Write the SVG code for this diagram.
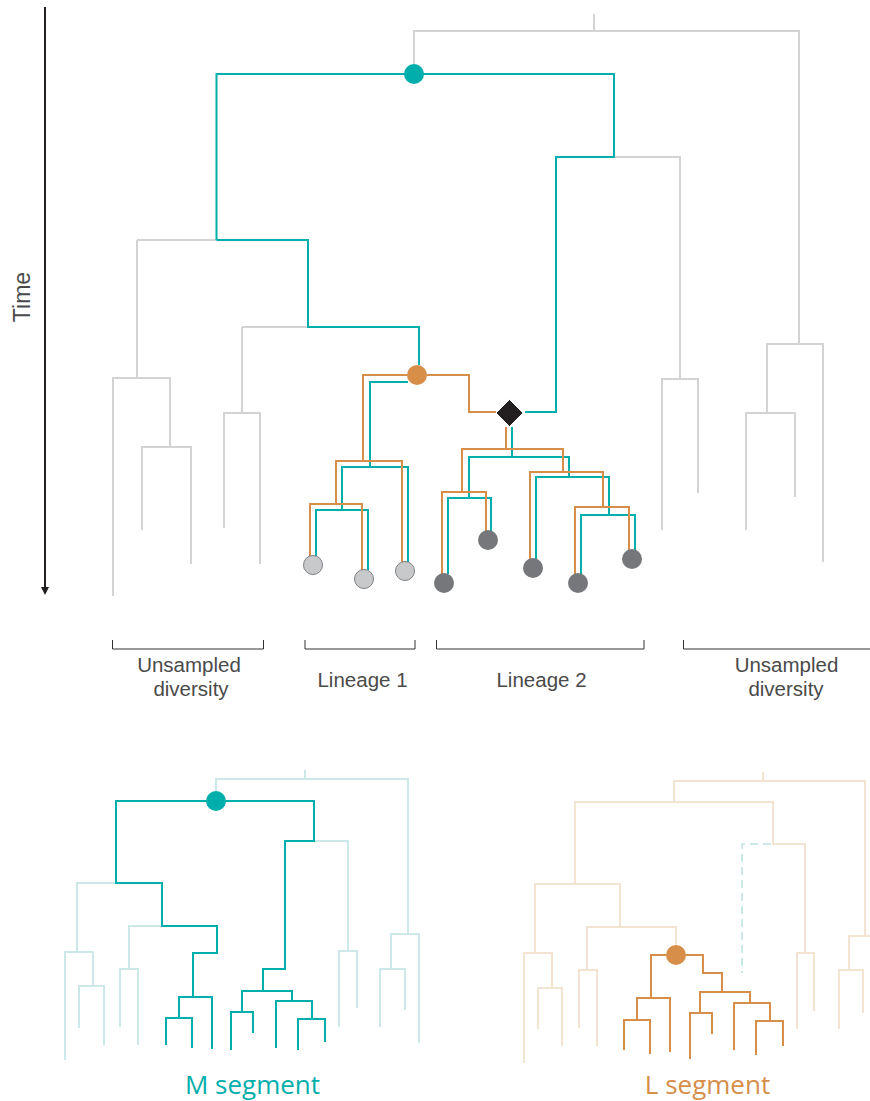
<svg xmlns="http://www.w3.org/2000/svg" width="870" height="1101" viewBox="0 0 870 1101">
<style>
.g{fill:none;stroke:#d3d3d3;stroke-width:2}
.t{fill:none;stroke:#00aeab;stroke-width:2}
.o{fill:none;stroke:#d68e48;stroke-width:2}
.lt{fill:none;stroke:#cde8e9;stroke-width:2}
.lo{fill:none;stroke:#f3e3d1;stroke-width:2}
.dash{fill:none;stroke:#cde8e9;stroke-width:2;stroke-dasharray:8 5}
.br{fill:none;stroke:#333;stroke-width:1}
.lbl{font-family:"Liberation Sans",Arial,sans-serif;font-size:20.5px;fill:#4a4a4a;text-anchor:middle}
.seg{font-family:"Open Sans","Liberation Sans",sans-serif;font-size:26px;text-anchor:middle}
.leafL{fill:#c8c9cb;stroke:#7f8083;stroke-width:1}
.leafD{fill:#76777a}
</style>
<defs>
<marker id="arr" viewBox="0 0 8 8" refX="4" refY="4" markerWidth="8" markerHeight="8" markerUnits="userSpaceOnUse" orient="auto">
<path d="M0,0 L8,4 L0,8 Z" fill="#231f20"/>
</marker>
</defs>

<g id="time-axis">
<line x1="45" y1="7" x2="45" y2="591" stroke="#231f20" stroke-width="2" marker-end="url(#arr)"/>
<text x="30" y="297" transform="rotate(-90 30 297)" class="lbl" style="font-size:23px">Time</text>
</g>

<g id="connectors">
<!-- top tree gray -->
<path class="g" d="M594,14 V31 M414,64 V31 H799 V344"/>
<path class="g" d="M767,413 V344 H823 V562 M746,530 V413 H795 V497"/>
<path class="g" d="M614,157 H680 V379 M662,530 V379 H698 V493"/>
<path class="g" d="M137,240 H216.5 M137,240 V378 M113,596 V378 H170 V447 M142,530 V447 H191 V564"/>
<path class="g" d="M242,327 H308 M242,327 V413 M224,528 V413 H260 V564"/>
<!-- top tree teal -->
<path class="t" d="M216.5,240 V74 H614 V157 H556 V412 H525"/>
<path class="t" d="M216.5,240 H308 V327 H419 V365"/>
<path class="t" d="M408,382 H370 V467 M342,510 V467 H408 V562 M316,556 V510 H368 V570"/>
<path class="t" d="M512,427 V457 M469,498 V457 H569 V477 M448,574 V498 H491 V531 M536,559 V477 H609 V515 M581,574 V515 H635 V550"/>
<!-- top tree orange -->
<path class="o" d="M407,375 H363 V461 M427,375 H469 V412 H496"/>
<path class="o" d="M336,504 V461 H402 V562 M310,556 V504 H362 V570"/>
<path class="o" d="M506,427 V449 M462,492 V449 H563 V472 M442,574 V492 H486 V531 M530,559 V472 H603 V507 M575,574 V507 H629 V550"/>

<!-- M segment tree -->
<path class="lt" d="M305,770 V779 M216,791 V779 H408 V934 M391,969 V934 H419 V1043 M380,1027 V969 H405 V1010"/>
<path class="lt" d="M314,841 H348 V951 M339,1027 V951 H357 V1008"/>
<path class="lt" d="M116,883 H77 V952 M65,1060 V952 H93 V986 M79,1028 V986 H104 V1045"/>
<path class="lt" d="M162,926 H129 V969 M120,1027 V969 H138 V1045"/>
<path class="t" d="M193,997 V953 H217 V926 H162 V883 H116 V801 H314 V841 H285 V969 H263 V991"/>
<path class="t" d="M179,1018 V997 H212 V1049 M166,1045 V1018 H192 V1048"/>
<path class="t" d="M242,1012 V991 H292 V1001 M231,1050 V1012 H253 V1033 M276,1048 V1001 H312 V1019 M298,1050 V1019 H325 V1042"/>

<!-- L segment tree -->
<path class="lo" d="M763,772 V781 M674,802 V781 H865 V936 M849,970 V936 H872 M839,1029 V970 H863 V1013"/>
<path class="lo" d="M575,884 V802 H773 V844 H805 V953 M797,1029 V953 H814 V1011"/>
<path class="lo" d="M535,953 V884 H620 V927 M587,970 V927 H676 V945"/>
<path class="lo" d="M524,1063 V953 H552 V988 M538,1029 V988 H562 V1046 M579,1028 V970 H597 V1046"/>
<path class="dash" d="M771,844 H742 V973"/>
<path class="o" d="M666,955 H651 V998 M637,1020 V998 H670 V1052 M624,1050 V1020 H650 V1054"/>
<path class="o" d="M686,955 H703 V973 H722 V992 M700,1013 V992 H750 V1003 M690,1059 V1013 H712 V1034 M734,1050 V1003 H770 V1021 M756,1055 V1021 H783 V1046"/>
</g>

<g id="node-m-ancestor"><circle cx="414" cy="74" r="10" fill="#00aeab"/></g>
<g id="node-l-ancestor"><circle cx="417" cy="375" r="10" fill="#d68e48"/></g>
<g id="node-reassortment"><path d="M509.5,399.5 L523,413 L509.5,426.5 L496,413 Z" fill="#231f20" stroke="#fff" stroke-width="1"/></g>

<g id="lineage1-tips">
<circle class="leafL" cx="313" cy="565" r="9.5"/>
<circle class="leafL" cx="364" cy="579" r="9.5"/>
<circle class="leafL" cx="405" cy="571" r="9.5"/>
</g>
<g id="lineage2-tips">
<circle class="leafD" cx="444" cy="583" r="10"/>
<circle class="leafD" cx="488" cy="540" r="10"/>
<circle class="leafD" cx="533" cy="568" r="10"/>
<circle class="leafD" cx="578" cy="583" r="10"/>
<circle class="leafD" cx="632" cy="559" r="10"/>
</g>

<g id="brackets">
<path class="br" d="M112.5,640 V649 H263.5 V640"/>
<path class="br" d="M305,640 V649 H415 V640"/>
<path class="br" d="M436.5,640 V649 H644 V640"/>
<path class="br" d="M683.5,640 V649 H870"/>
</g>
<g id="label-unsampled-left">
<text class="lbl" x="189" y="672">Unsampled</text>
<text class="lbl" x="191" y="696">diversity</text>
</g>
<g id="label-lineage1"><text class="lbl" x="362.5" y="687">Lineage 1</text></g>
<g id="label-lineage2"><text class="lbl" x="541.5" y="687">Lineage 2</text></g>
<g id="label-unsampled-right">
<text class="lbl" x="786.5" y="672">Unsampled</text>
<text class="lbl" x="786" y="696">diversity</text>
</g>

<g id="m-segment">
<circle cx="216" cy="801" r="10" fill="#00aeab"/>
<text class="seg" x="252.5" y="1094" fill="#00aeab">M segment</text>
</g>
<g id="l-segment">
<circle cx="676" cy="955" r="10" fill="#d68e48"/>
<text class="seg" x="707.5" y="1094" fill="#d68e48">L segment</text>
</g>
</svg>
